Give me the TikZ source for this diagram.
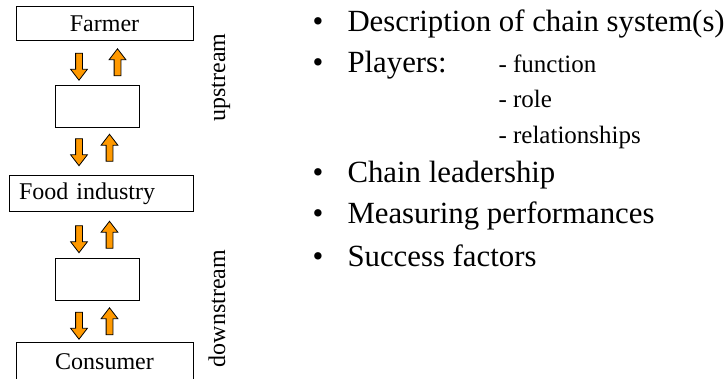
\documentclass[tikz,border=0pt]{standalone}
\usepackage{fontspec}
\setmainfont{Liberation Serif}
\usetikzlibrary{shapes.arrows}
\definecolor{flow}{RGB}{255,153,0}

\begin{document}
\begin{tikzpicture}[x=1pt, y=-1pt, line width=1pt,
	box/.style = {draw, inner sep=0pt, font=\fontsize{24}{28}\selectfont},
	flowdown/.style = {single arrow, draw, fill=flow, line width=0.8pt, minimum height=27pt, minimum width=16pt, inner sep=3pt, single arrow head extend=5pt, single arrow tip angle=75, shape border rotate=270},
	flowup/.style = {flowdown, shape border rotate=90},
	side/.style = {rotate=90, anchor=base, inner sep=0pt, font=\fontsize{24}{28}\selectfont},
	item/.style = {anchor=base west, inner sep=0pt, font=\fontsize{30.8}{36}\selectfont},
	sub/.style = {anchor=base west, inner sep=0pt, font=\fontsize{25}{30}\selectfont}]
	\useasboundingbox (0,0) rectangle (725,379);
	
	% chain
	\node[box, minimum width=177pt, minimum height=34pt] (farmer) at (104.5,24) {Farmer};
	\node[box, minimum width=84pt, minimum height=42pt] (mid1) at (97,107) {};
	\node[box, minimum height=36pt, text width=164pt, inner xsep=10pt, align=left] (food) at (101,194) {Food industry};
	\node[box, minimum width=84pt, minimum height=41pt] (mid2) at (97,279.5) {};
	\node[box, minimum width=177pt, minimum height=40pt] (consumer) at (104.5,362) {Consumer};
	
	\node[flowdown] (down1) at (79,64.5) {};
	\node[flowup] (up1) at (117.5,64.5) {};
	\node[flowdown] (down2) at (79,150) {};
	\node[flowup] (up2) at (109.5,150) {};
	\node[flowdown] (down3) at (79,237) {};
	\node[flowup] (up3) at (109.5,237) {};
	\node[flowdown] (down4) at (79,323.5) {};
	\node[flowup] (up4) at (109.5,323.5) {};
	
	\node[side] (upstream) at (225,77.5) {upstream};
	\node[side] (downstream) at (225,308.5) {downstream};
	
	% list
	\node[item] (b1) at (312,32) {\textbullet};
	\node[item] (desc) at (347,32) {Description of chain system(s)};
	\node[item] (b2) at (312,73) {\textbullet};
	\node[item] (players) at (347,73) {Players:};
	\node[sub] (function) at (498,73) {- function};
	\node[sub] (role) at (498,108) {- role};
	\node[sub] (rel) at (498,144) {- relationships};
	\node[item] (b3) at (312,183) {\textbullet};
	\node[item] (lead) at (347,183) {Chain leadership};
	\node[item] (b4) at (312,224) {\textbullet};
	\node[item] (perf) at (347,224) {Measuring performances};
	\node[item] (b5) at (312,266) {\textbullet};
	\node[item] (succ) at (347,266) {Success factors};
\end{tikzpicture}
\end{document}
